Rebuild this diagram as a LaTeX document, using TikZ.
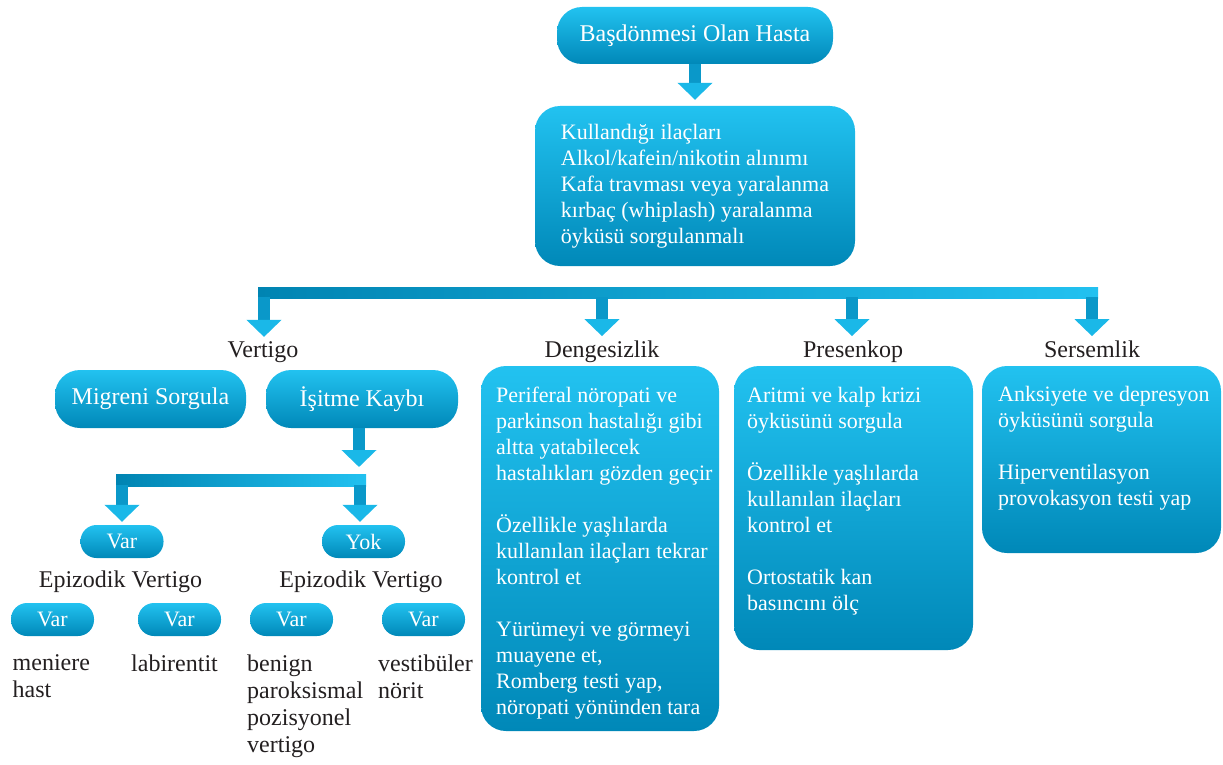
\documentclass[tikz,border=0pt]{standalone}
\usepackage{fontspec}
\setmainfont{Liberation Serif}
\usetikzlibrary{arrows.meta}
\begin{document}
\begin{tikzpicture}[x=1pt,y=-1pt,
  box/.style={rounded corners=25pt,top color=kTop,bottom color=kBot,draw=none,text=white,
    font=\fontsize{24}{28}\selectfont,inner sep=0pt},
  pill/.style={box,rounded corners=16pt,minimum width=83pt,minimum height=33pt,
    font=\fontsize{22}{26}\selectfont},
  boxtext/.style={text=white,font=\fontsize{22}{26}\selectfont,align=left,inner sep=0pt,anchor=north west},
  lbl/.style={text=kText,font=\fontsize{24}{27}\selectfont,inner sep=0pt,anchor=base},
  note/.style={text=kText,font=\fontsize{24}{27}\selectfont,align=left,inner sep=0pt,anchor=north west},
  drop/.style={draw=kShaft,line width=12pt,-{Triangle[length=17pt,width=34pt,color=kHead]}},
  ]
  % colors
  \definecolor{kTop}{HTML}{22C2F0}
  \definecolor{kBot}{HTML}{0088B8}
  \definecolor{kShaft}{HTML}{0A98C9}
  \definecolor{kHead}{HTML}{1AB8E8}
  \definecolor{kBarL}{HTML}{0084B2}
  \definecolor{kBarR}{HTML}{22C1F0}
  \definecolor{kText}{HTML}{231F20}
  \useasboundingbox (0,0) rectangle (1223,765);
  % top
  \node[box,minimum width=276pt,minimum height=57pt] (patient) at (695,35.5) {Başdönmesi Olan Hasta};
  \node[box,minimum width=320pt,minimum height=160pt,align=left,font=\fontsize{22}{26}\selectfont] (history) at (695,186)
    {Kullandığı ilaçları\\Alkol/kafein/nikotin alınımı\\Kafa travması veya yaralanma\\kırbaç (whiplash) yaralanma\\öyküsü sorgulanmalı};
  \draw[drop,shorten >=6pt] (patient) -- (history);
  % main bar
  \shade[left color=kBarL,right color=kBarR] (258,287) rectangle (1098,298);
  \coordinate (d1) at (264,297);
  \coordinate (d2) at (602,297);
  \coordinate (d3) at (852,297);
  \coordinate (d4) at (1092,297);
  \node[lbl] (vertigo) at (263,357) {Vertigo};
  \node[lbl] (balance) at (602,357) {Dengesizlik};
  \node[lbl] (presync) at (853,357) {Presenkop};
  \node[lbl] (dizzy) at (1092,357) {Sersemlik};
  \draw[drop,shorten >=4pt] (d1) -- (d1 |- vertigo.north);
  \draw[drop,shorten >=4pt] (d2) -- (d2 |- balance.north);
  \draw[drop,shorten >=4pt] (d3) -- (d3 |- presync.north);
  \draw[drop,shorten >=4pt] (d4) -- (d4 |- dizzy.north);
  % vertigo branch
  \node[box,minimum width=191pt,minimum height=58pt] (migraine) at (150.5,399) {Migreni Sorgula};
  \node[box,minimum width=192pt,minimum height=58pt] (hearing) at (362,399) {İşitme Kaybı};
  \coordinate (hearbar) at (359,474);
  \draw[drop,shorten >=7pt] (hearing.south -| hearbar) -- (hearbar);
  \shade[left color=kBarL,right color=kBarR] (116,474) rectangle (366,486);
  \coordinate (yes) at (122,485);
  \coordinate (no) at (360,485);
  \node[pill] (var) at (122,541.5) {Var};
  \node[pill] (yok) at (363.5,541.5) {Yok};
  \draw[drop,shorten >=3pt] (yes) -- (yes |- var.north);
  \draw[drop,shorten >=3pt] (no) -- (no |- yok.north);
  \node[lbl] (episyes) at (120.5,587) {Epizodik Vertigo};
  \node[lbl] (episno) at (361,587) {Epizodik Vertigo};
  \foreach \x/\n in {52.5/meniere,179.5/labyr,291.5/bppv,423.5/neuritis}
    \node[pill] (\n) at (\x,619.5) {Var};
  \node[note] (menieretext) at (12.5,654.6) {meniere\\hast};
  \node[note] (labyrtext) at (131,654.6) {labirentit};
  \node[note] (bppvtext) at (247,654.6) {benign\\paroksismal\\pozisyonel\\vertigo};
  \node[note] (neuritistext) at (378,654.6) {vestibüler\\nörit};
  % boxes
  \node[box,minimum width=238pt,minimum height=365pt] (balancebox) at (600,548.5) {};
  \node[boxtext] (balancetext) at (496,386.5) {Periferal nöropati ve\\parkinson hastalığı gibi\\altta yatabilecek\\hastalıkları gözden geçir\\[26pt]Özellikle yaşlılarda\\kullanılan ilaçları tekrar\\kontrol et\\[26pt]Yürümeyi ve görmeyi\\muayene et,\\Romberg testi yap,\\nöropati yönünden tara};
  \node[box,minimum width=239pt,minimum height=284pt] (presyncbox) at (853.5,508) {};
  \node[boxtext] (presynctext) at (747,387) {Aritmi ve kalp krizi\\öyküsünü sorgula\\[26pt]Özellikle yaşlılarda\\kullanılan ilaçları\\kontrol et\\[26pt]Ortostatik kan\\basıncını ölç};
  \node[box,minimum width=239pt,minimum height=187pt] (dizzybox) at (1101.5,459.5) {};
  \node[boxtext] (dizzytext) at (998,385.7) {Anksiyete ve depresyon\\öyküsünü sorgula\\[26pt]Hiperventilasyon\\provokasyon testi yap};
\end{tikzpicture}
\end{document}
